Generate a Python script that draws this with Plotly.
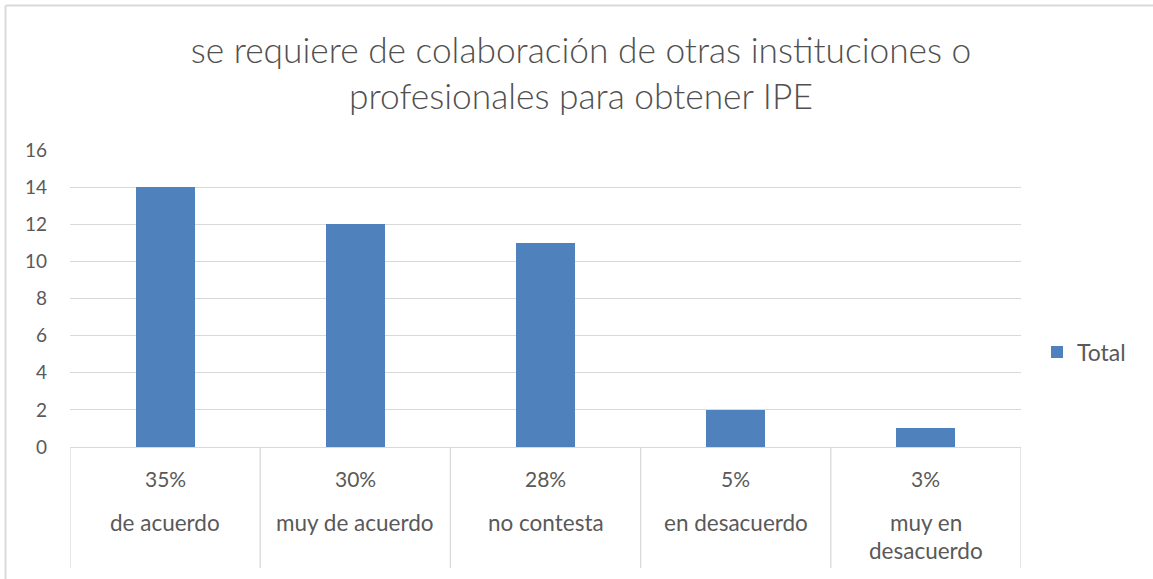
import plotly.graph_objects as go

categories = ["de acuerdo", "muy de acuerdo", "no contesta", "en desacuerdo", "muy en\ndesacuerdo"]
percent_labels = ["35%", "30%", "28%", "5%", "3%"]
totals = [14, 12, 11, 2, 1]
y_ticks = [0, 2, 4, 6, 8, 10, 12, 14, 16]
title_text = "se requiere de colaboración de otras instituciones o<br>profesionales para obtener IPE"

FONT = "Lato"
TXT = "#595959"
GRID = "#d9d9d9"

W, H = 1153, 579
ml, mr, mt, mb = 70, 132, 150, 132
plot_h = H - mt - mb
plot_w = W - ml - mr

def py(px):
    # pixel y (from top) -> paper coordinate
    return (H - mb - px) / plot_h

def pxx(px):
    return (px - ml) / plot_w

xs = list(range(len(categories)))

fig = go.Figure()
fig.add_trace(go.Bar(
    x=xs, y=totals, name="Total",
    marker=dict(color="#4F81BD", line=dict(width=0)),
    width=0.31,
))

annotations = []
shapes = []
for i, (cat, pct) in enumerate(zip(categories, percent_labels)):
    annotations.append(dict(x=i, xref="x", y=py(478), yref="paper", text=pct,
                            showarrow=False, yanchor="middle",
                            font=dict(family=FONT, size=21, color=TXT)))
    for j, line in enumerate(cat.split("\n")):
        annotations.append(dict(x=i, xref="x", y=py(522 + 28 * j), yref="paper", text=line,
                                showarrow=False, yanchor="middle",
                                font=dict(family=FONT, size=22.5, color=TXT)))
for k in range(len(categories) + 1):
    shapes.append(dict(type="line", xref="x", yref="paper", x0=k - 0.5, x1=k - 0.5,
                       y0=0, y1=py(568), line=dict(color=GRID, width=1.3)))
# chart outline (left and top edges visible)
shapes.append(dict(type="line", xref="paper", yref="paper",
                   x0=pxx(5.5), x1=pxx(5.5), y0=py(580), y1=py(5.5),
                   line=dict(color=GRID, width=2), layer="below"))
shapes.append(dict(type="line", xref="paper", yref="paper",
                   x0=pxx(5.5), x1=pxx(1153), y0=py(5.5), y1=py(5.5),
                   line=dict(color=GRID, width=2), layer="below"))

fig.update_layout(
    width=W, height=H,
    margin=dict(l=ml, r=mr, t=mt, b=mb),
    paper_bgcolor="white", plot_bgcolor="white",
    title=dict(text=title_text, x=581 / W, xref="container", xanchor="center",
               y=1 - 63 / H, yref="container", yanchor="middle",
               font=dict(family=FONT, size=35.3, color="#505050", weight=300)),
    font=dict(family=FONT, color=TXT),
    showlegend=True,
    legend=dict(x=pxx(1037), xanchor="left", y=py(352), yanchor="middle",
                font=dict(family=FONT, size=23, color=TXT), bgcolor="rgba(0,0,0,0)",
                itemwidth=30),
    xaxis=dict(range=[-0.5, len(categories) - 0.5], showticklabels=False, showgrid=False,
               zeroline=False, showline=True, linecolor=GRID, linewidth=1.3, ticks=""),
    yaxis=dict(range=[0, 16], tickvals=y_ticks, showgrid=True, gridcolor=GRID, gridwidth=1.3,
               zeroline=False, showline=False, ticks="", ticklabelstandoff=22,
               tickfont=dict(family=FONT, size=19, color=TXT)),
    annotations=annotations, shapes=shapes,
    bargap=0,
)

fig.write_html("out.html", config={"displayModeBar": False},
               post_script="document.body.style.margin='0';document.body.style.overflow='hidden';")
